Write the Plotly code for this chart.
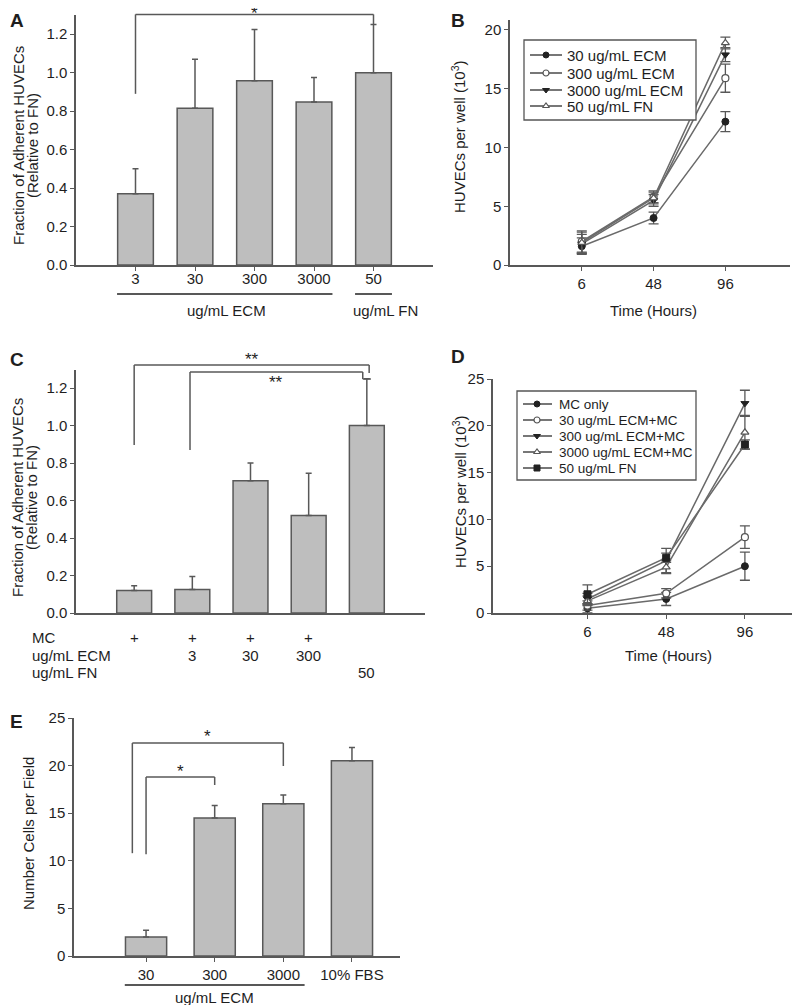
import plotly.graph_objects as go

# the page puts the figure 8px in from the top-left corner, so the figure is
# made 8px smaller and every position below is given in window pixels
OFF = 8
W, H = 800 - OFF, 1005 - OFF
FONT = "Liberation Sans, Arial, sans-serif"
INK = "#1e1e1e"
AXIS = "#585858"
BAR_FILL = "#bebebe"
LINE = "#6a6a6a"

# -----------------------------
# data
# -----------------------------
# A: adhesion on ECM / FN (relative to FN)
a_cats = ["3", "30", "300", "3000", "50"]
a_vals = [0.37, 0.815, 0.958, 0.848, 1.0]
a_err = [0.13, 0.255, 0.267, 0.127, 0.25]

# B: growth curves
time_cats = ["6", "48", "96"]
b_ecm30 = [1.6, 4.0, 12.2]
b_ecm30_err = [0.7, 0.5, 0.85]
b_ecm300 = [2.0, 5.8, 15.9]
b_ecm300_err = [0.9, 0.5, 1.2]
b_ecm3000 = [1.8, 5.5, 17.9]
b_ecm3000_err = [0.8, 0.5, 0.6]
b_fn50 = [1.9, 5.7, 18.9]
b_fn50_err = [0.9, 0.5, 0.5]
b_names = ["30 ug/mL ECM", "300 ug/mL ECM", "3000 ug/mL ECM", "50 ug/mL FN"]

# C: adhesion with MC
c_cats = ["MC", "MC+3", "MC+30", "MC+300", "FN50"]
c_vals = [0.12, 0.125, 0.705, 0.52, 1.0]
c_err = [0.025, 0.07, 0.095, 0.225, 0.25]
c_row_mc = ["+", "+", "+", "+", ""]
c_row_ecm = ["", "3", "30", "300", ""]
c_row_fn = ["", "", "", "", "50"]

# D: growth curves with MC
d_mc = [0.5, 1.5, 5.0]
d_mc_err = [0.5, 0.7, 1.5]
d_ecm30 = [0.8, 2.1, 8.1]
d_ecm30_err = [0.5, 0.5, 1.2]
d_ecm300 = [1.5, 5.6, 22.4]
d_ecm300_err = [0.6, 1.3, 1.4]
d_ecm3000 = [1.3, 4.9, 19.3]
d_ecm3000_err = [0.5, 0.7, 1.8]
d_fn50 = [2.0, 5.9, 18.0]
d_fn50_err = [1.0, 0.5, 0.5]
d_names = ["MC only", "30 ug/mL ECM+MC", "300 ug/mL ECM+MC",
           "3000 ug/mL ECM+MC", "50 ug/mL FN"]

# E: migration
e_cats = ["30", "300", "3000", "10% FBS"]
e_vals = [2.0, 14.5, 16.0, 20.5]
e_err = [0.7, 1.3, 0.9, 1.4]


def px(x):
    return (x - OFF) / W


def py(y):
    return 1 - (y - OFF) / H


fig = go.Figure()

# -----------------------------
# bars
# -----------------------------
def add_bars(x, y, err, xa, ya):
    fig.add_trace(go.Bar(
        x=x, y=y, xaxis=xa, yaxis=ya, width=0.6, showlegend=False,
        marker=dict(color=BAR_FILL, line=dict(color=AXIS, width=1.5)),
        error_y=dict(type="data", array=err, arrayminus=[0] * len(err),
                     symmetric=False, color=AXIS, thickness=1.5, width=3),
    ))


add_bars(a_cats, a_vals, a_err, "x", "y")
add_bars(c_cats, c_vals, c_err, "x3", "y3")
add_bars(e_cats, e_vals, e_err, "x5", "y5")

# -----------------------------
# growth curves
# -----------------------------
SYM_FILLED = dict(color="#222222", line=dict(color="#222222", width=1))
SYM_OPEN = dict(color="white", line=dict(color="#555555", width=1.2))

b_styles = [("circle", SYM_FILLED), ("circle", SYM_OPEN),
            ("triangle-down", SYM_FILLED), ("triangle-up", SYM_OPEN)]
d_styles = [("circle", SYM_FILLED), ("circle", SYM_OPEN),
            ("triangle-down", SYM_FILLED), ("triangle-up", SYM_OPEN),
            ("square", SYM_FILLED)]


def add_line(y, err, name, style, xa, ya):
    symbol, mk = style
    fig.add_trace(go.Scatter(
        x=time_cats, y=y, xaxis=xa, yaxis=ya, name=name, showlegend=False,
        mode="lines+markers",
        line=dict(color=LINE, width=1.5),
        marker=dict(symbol=symbol, size=7, **mk),
        error_y=dict(type="data", array=err, color=AXIS, thickness=1.3, width=5),
    ))


for vals, err, name, style in zip([b_ecm30, b_ecm300, b_ecm3000, b_fn50],
                                  [b_ecm30_err, b_ecm300_err, b_ecm3000_err, b_fn50_err],
                                  b_names, b_styles):
    add_line(vals, err, name, style, "x2", "y2")

for vals, err, name, style in zip([d_mc, d_ecm30, d_ecm300, d_ecm3000, d_fn50],
                                  [d_mc_err, d_ecm30_err, d_ecm300_err, d_ecm3000_err, d_fn50_err],
                                  d_names, d_styles):
    add_line(vals, err, name, style, "x4", "y4")

# -----------------------------
# axes
# -----------------------------
ax = dict(showline=True, linecolor=AXIS, linewidth=1.5, showgrid=False,
          zeroline=False, ticks="outside", ticklen=4, tickwidth=1.2,
          tickcolor=AXIS, tickfont=dict(size=15, color=INK), automargin=False)

# y tops (range maxima) are reused by the bracket helper
Y_TOP = {"y": 1.3, "y2": 20.85, "y3": 1.296, "y4": 25, "y5": 25}

fig.update_layout(
    xaxis=dict(ax, domain=[px(76), px(433)], anchor="y", type="category",
               range=[-1, 5], ticklabelstandoff=-5),
    yaxis=dict(ax, domain=[py(265), py(15)], anchor="x",
               range=[0, Y_TOP["y"]], dtick=0.2, tickformat=".1f"),
    xaxis2=dict(ax, domain=[px(510), px(790)], anchor="y2", type="category",
                range=[-1, 2.9]),
    yaxis2=dict(ax, domain=[py(265), py(20)], anchor="x2",
                range=[0, Y_TOP["y2"]], dtick=5),
    xaxis3=dict(ax, domain=[px(76), px(425)], anchor="y3", type="category",
                range=[-1, 5], showticklabels=False, ticks=""),
    yaxis3=dict(ax, domain=[py(613), py(370)], anchor="x3",
                range=[0, Y_TOP["y3"]], dtick=0.2, tickformat=".1f"),
    xaxis4=dict(ax, domain=[px(493), px(800)], anchor="y4", type="category",
                range=[-1.2, 2.7]),
    yaxis4=dict(ax, domain=[py(613), py(379)], anchor="x4",
                range=[0, Y_TOP["y4"]], dtick=5),
    xaxis5=dict(ax, domain=[px(74), px(400)], anchor="y5", type="category",
                range=[-1.05, 3.7]),
    yaxis5=dict(ax, domain=[py(956), py(718)], anchor="x5",
                range=[0, Y_TOP["y5"]], dtick=5),
    # overlay in window pixels, used only for the legend keys
    xaxis6=dict(domain=[0, 1], anchor="y6", range=[OFF, 800], visible=False,
                fixedrange=True),
    yaxis6=dict(domain=[0, 1], anchor="x6", range=[1005, OFF], visible=False,
                fixedrange=True),
)

shapes = []
annotations = []


def seg(xa, ya, x0, y0, x1, y1):
    shapes.append(dict(type="line", xref=xa, yref=ya + " domain",
                       x0=x0, x1=x1, y0=y0 / Y_TOP[ya], y1=y1 / Y_TOP[ya],
                       line=dict(color=AXIS, width=1.5)))


def bracket(xa, ya, left, right, top, lbot, rbot, label, label_y, tail=None):
    seg(xa, ya, left, lbot, left, top)
    seg(xa, ya, left, top, right, top)
    seg(xa, ya, right, top, right, rbot)
    if tail is not None:
        seg(xa, ya, right, rbot, tail, rbot)
    annotations.append(dict(text=label, xref=xa, yref=ya + " domain",
                            x=(left + right) / 2, y=label_y / Y_TOP[ya],
                            yshift=13, showarrow=False,
                            font=dict(size=17, color=INK)))


# significance brackets
bracket("x", "y", 0, 4, 1.303, 0.89, 1.25, "*", 1.30)
bracket("x3", "y3", 0, 4.04, 1.323, 0.896, 1.28, "**", 1.344)
bracket("x3", "y3", 0.96, 3.93, 1.285, 0.869, 1.248, "**", 1.221, tail=4.07)
bracket("x5", "y5", -0.2, 2, 22.37, 10.8, 19.96, "*", 22.9)
bracket("x5", "y5", 0, 1, 18.8, 10.7, 17.96, "*", 19.2)


def text(t, x, y, size=15, bold=False, angle=0, xanchor="center", xref="paper"):
    if bold:
        t = "<b>" + t + "</b>"
    annotations.append(dict(text=t, x=x, y=y, xref=xref, yref="paper",
                            showarrow=False, textangle=angle, xanchor=xanchor,
                            yanchor="middle", font=dict(size=size, color=INK)))


def group_line(xa, first, last, y):
    shapes.append(dict(type="line", xref=xa, yref="paper",
                       x0=first - 0.31, x1=last + 0.31, y0=py(y), y1=py(y),
                       line=dict(color=AXIS, width=1.8)))


# group labels under A
group_line("x", a_cats.index("3"), a_cats.index("3000"), 294)
group_line("x", a_cats.index("50"), a_cats.index("50"), 294)
text("ug/mL ECM", px(226), py(310))
text("ug/mL FN", px(385), py(310))

# group label under E
group_line("x5", e_cats.index("30"), e_cats.index("3000"), 985)
text("ug/mL ECM", px(214), py(997))

# condition table under C
text("MC", px(30), py(637), xanchor="left")
text("ug/mL ECM", px(30), py(655), xanchor="left")
text("ug/mL FN", px(30), py(672), xanchor="left")
for cat, mc, ecm, fn in zip(c_cats, c_row_mc, c_row_ecm, c_row_fn):
    for val, yy in ((mc, 637), (ecm, 655), (fn, 672)):
        if val:
            text(val, cat, py(yy), xref="x3")

# axis titles
for yc in (146, 498):
    text("Fraction of Adherent HUVECs", px(18), py(yc), angle=-90)
    text("(Relative to FN)", px(32), py(yc), angle=-90)
text("HUVECs per well (10<sup>3</sup>)", px(458), py(137), angle=-90)
text("HUVECs per well (10<sup>3</sup>)", px(460), py(492), angle=-90)
text("Number Cells per Field", px(28), py(834), angle=-90)
text("Time (Hours)", px(653), py(310))
text("Time (Hours)", px(668), py(655))

# panel letters
for letter, x, y in (("A", 8, 20.5), ("B", 449, 20.5), ("C", 8, 359),
                     ("D", 449, 357), ("E", 8, 721)):
    text(letter, px(x), py(y), size=19, bold=True, xanchor="left")


# -----------------------------
# legends (drawn by hand: boxed, tightly spaced rows)
# -----------------------------
def legend(names, styles, box, rows, key, text_x, size):
    x0, y0, x1, y1 = box
    shapes.append(dict(type="rect", xref="x6", yref="y6", x0=x0, x1=x1,
                       y0=y0, y1=y1, line=dict(color="#555555", width=1.3),
                       fillcolor="white", layer="below"))
    k0, km, k1 = key
    for name, (symbol, mk), yy in zip(names, styles, rows):
        shapes.append(dict(type="line", xref="x6", yref="y6", x0=k0, x1=k1,
                           y0=yy, y1=yy, layer="below",
                           line=dict(color="#4a4a4a", width=1.5)))
        fig.add_trace(go.Scatter(
            x=[km], y=[yy], xaxis="x6", yaxis="y6", mode="markers",
            showlegend=False, hoverinfo="skip",
            marker=dict(symbol=symbol, size=6, **mk)))
        annotations.append(dict(text=name, x=text_x, y=yy, xref="x6", yref="y6",
                                xanchor="left", yanchor="middle", showarrow=False,
                                font=dict(size=size, color=INK)))


legend(b_names, b_styles, (524, 40, 696, 120), [55, 73, 90, 106],
       (530, 546, 562), 565, 15)
legend(d_names, d_styles, (517, 391, 696, 480), [404, 420, 436, 452, 468],
       (523, 537, 552), 557, 13.5)

fig.update_layout(
    width=W, height=H,
    margin=dict(l=0, r=0, t=0, b=0, autoexpand=False),
    paper_bgcolor="white", plot_bgcolor="rgba(0,0,0,0)",
    font=dict(family=FONT, size=15, color=INK),
    showlegend=False,
    shapes=shapes,
    annotations=annotations,
)

fig.write_html("out.html")
